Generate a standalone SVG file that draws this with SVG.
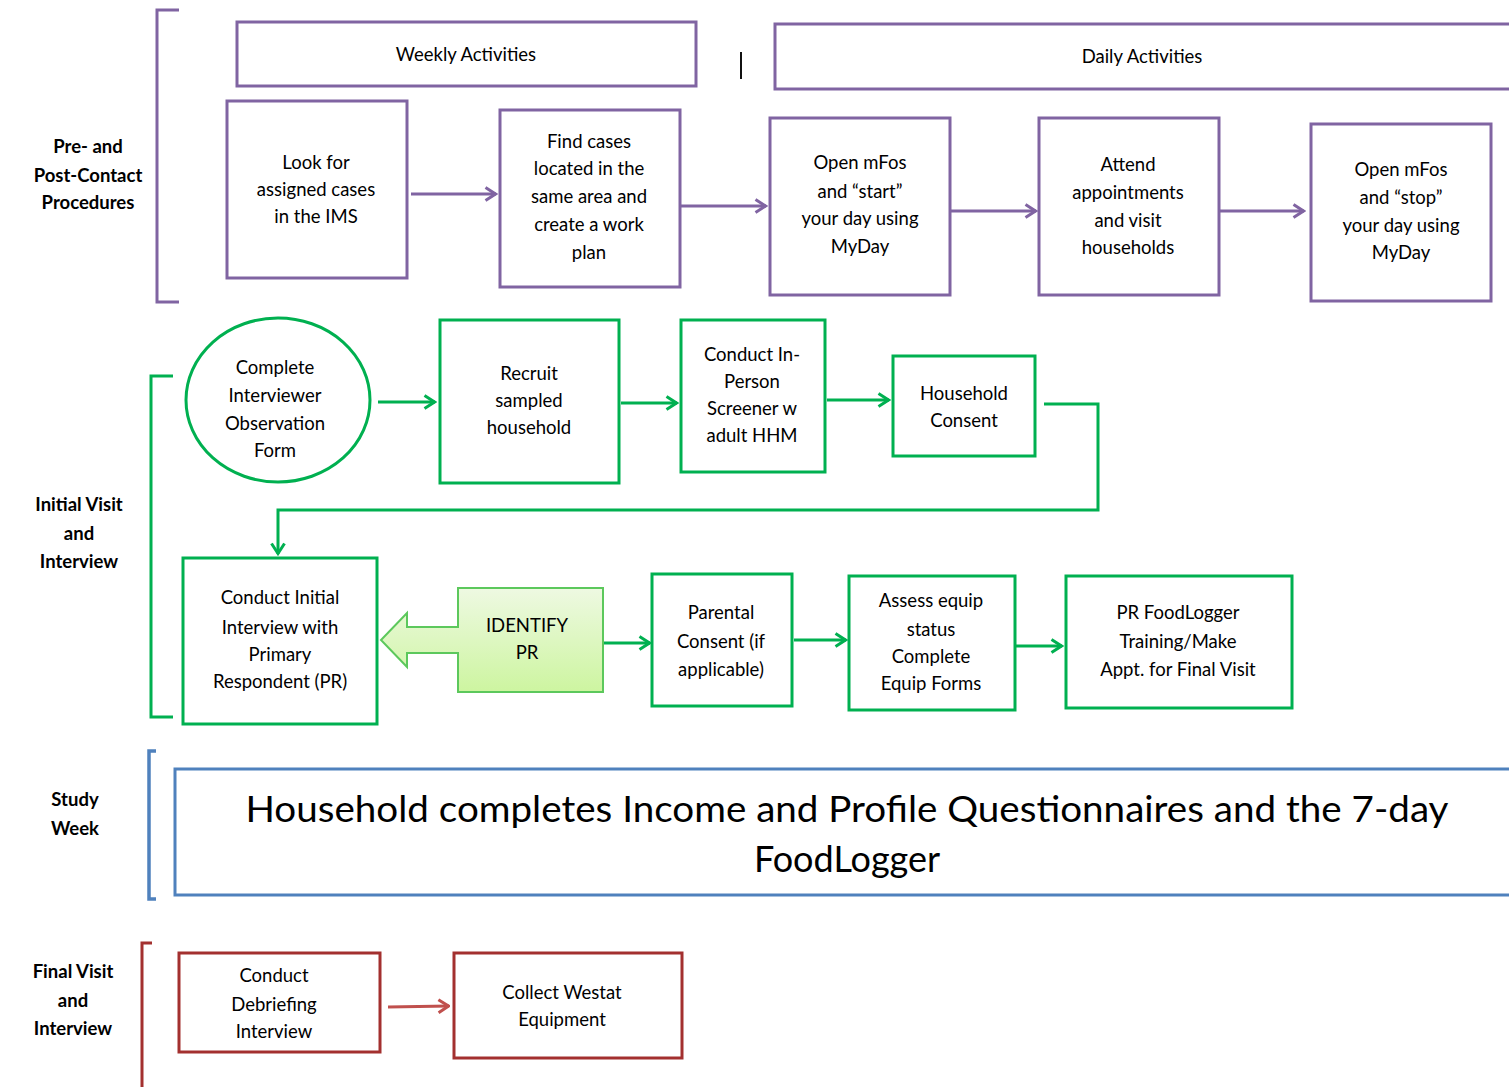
<svg xmlns="http://www.w3.org/2000/svg" width="1509" height="1087" viewBox="0 0 1509 1087">
<defs>
<style>
text{font-family:Lato,"Liberation Sans",sans-serif;fill:#000;text-anchor:middle}
.t{font-size:18.5px}
.lab{font-size:18.5px;font-weight:bold}
.big{font-size:36px}
.p{fill:#fff;stroke:#8064A2;stroke-width:3}
.g{fill:#fff;stroke:#00B050;stroke-width:3}
.b{fill:#fff;stroke:#4F81BD;stroke-width:3}
.r{fill:#fff;stroke:#A3302F;stroke-width:3}
.cp{fill:none;stroke:#8064A2;stroke-width:3}
.cg{fill:none;stroke:#00B050;stroke-width:3}
.cb{fill:none;stroke:#4F81BD;stroke-width:3.5}
.cr{fill:none;stroke:#A3302F;stroke-width:3}
.cr2{fill:none;stroke:#C0504D;stroke-width:3}
</style>
<marker id="ap" viewBox="0 0 14 16" refX="12.5" refY="8" markerWidth="14" markerHeight="16" markerUnits="userSpaceOnUse" orient="auto"><path d="M2,1.5 L12,8 L2,14.5" fill="none" stroke="#8064A2" stroke-width="3"/></marker>
<marker id="ag" viewBox="0 0 14 16" refX="12.5" refY="8" markerWidth="14" markerHeight="16" markerUnits="userSpaceOnUse" orient="auto"><path d="M2,1.5 L12,8 L2,14.5" fill="none" stroke="#00B050" stroke-width="3"/></marker>
<marker id="ar" viewBox="0 0 14 16" refX="12.5" refY="8" markerWidth="14" markerHeight="16" markerUnits="userSpaceOnUse" orient="auto"><path d="M2,1.5 L12,8 L2,14.5" fill="none" stroke="#C0504D" stroke-width="3"/></marker>
<linearGradient id="idg" x1="0" y1="0" x2="0" y2="1"><stop offset="0" stop-color="#EEF9E2"/><stop offset="1" stop-color="#CDF5A0"/></linearGradient>
</defs>
<rect width="1509" height="1087" fill="#fff"/>

<g id="brackets">
<path class="cp" d="M179,10 H157 V302 H179"/>
<path class="cg" d="M173,376 H151 V717 H173"/>
<path class="cb" d="M156,751 H149 V899 H156"/>
<path class="cr" d="M152,943 H142 V1087"/>
<line x1="741" y1="52" x2="741" y2="79" stroke="#111" stroke-width="2"/>
</g>

<g id="labels">
<text class="lab" x="88" y="153">Pre- and</text>
<text class="lab" x="88" y="182">Post-Contact</text>
<text class="lab" x="88" y="209">Procedures</text>
<text class="lab" x="79" y="511">Initial Visit</text>
<text class="lab" x="79" y="540">and</text>
<text class="lab" x="79" y="568">Interview</text>
<text class="lab" x="75" y="806">Study</text>
<text class="lab" x="75" y="835">Week</text>
<text class="lab" x="73" y="978">Final Visit</text>
<text class="lab" x="73" y="1007">and</text>
<text class="lab" x="73" y="1035">Interview</text>
</g>

<g id="weekly"><rect class="p" x="237" y="22" width="459" height="64"/><text class="t" x="466" y="61">Weekly Activities</text></g>
<g id="daily"><rect class="p" x="775" y="24" width="740" height="65"/><text class="t" x="1142" y="63">Daily Activities</text></g>

<g id="lookfor"><rect class="p" x="227" y="101" width="180" height="177"/>
<text class="t" x="316" y="169">Look for</text><text class="t" x="316" y="196">assigned cases</text><text class="t" x="316" y="223">in the IMS</text></g>
<g id="findcases"><rect class="p" x="500" y="110" width="180" height="177"/>
<text class="t" x="589" y="148">Find cases</text><text class="t" x="589" y="175">located in the</text><text class="t" x="589" y="203">same area and</text><text class="t" x="589" y="231">create a work</text><text class="t" x="589" y="259">plan</text></g>
<g id="startday"><rect class="p" x="770" y="118" width="180" height="177"/>
<text class="t" x="860" y="169">Open mFos</text><text class="t" x="860" y="198">and “start”</text><text class="t" x="860" y="225">your day using</text><text class="t" x="860" y="253">MyDay</text></g>
<g id="attend"><rect class="p" x="1039" y="118" width="180" height="177"/>
<text class="t" x="1128" y="171">Attend</text><text class="t" x="1128" y="199">appointments</text><text class="t" x="1128" y="227">and visit</text><text class="t" x="1128" y="254">households</text></g>
<g id="stopday"><rect class="p" x="1311" y="124" width="180" height="177"/>
<text class="t" x="1401" y="176">Open mFos</text><text class="t" x="1401" y="204">and “stop”</text><text class="t" x="1401" y="232">your day using</text><text class="t" x="1401" y="259">MyDay</text></g>

<g id="observation"><ellipse class="g" cx="278" cy="400" rx="92" ry="82"/>
<text class="t" x="275" y="374">Complete</text><text class="t" x="275" y="402">Interviewer</text><text class="t" x="275" y="430">Observation</text><text class="t" x="275" y="457">Form</text></g>
<g id="recruit"><rect class="g" x="440" y="320" width="179" height="163"/>
<text class="t" x="529" y="380">Recruit</text><text class="t" x="529" y="407">sampled</text><text class="t" x="529" y="434">household</text></g>
<g id="screener"><rect class="g" x="681" y="320" width="144" height="152"/>
<text class="t" x="752" y="361">Conduct In-</text><text class="t" x="752" y="388">Person</text><text class="t" x="752" y="415">Screener w</text><text class="t" x="752" y="442">adult HHM</text></g>
<g id="hhconsent"><rect class="g" x="893" y="356" width="142" height="100"/>
<text class="t" x="964" y="400">Household</text><text class="t" x="964" y="427">Consent</text></g>
<g id="initial"><rect class="g" x="183" y="558" width="194" height="166"/>
<text class="t" x="280" y="604">Conduct Initial</text><text class="t" x="280" y="634">Interview with</text><text class="t" x="280" y="661">Primary</text><text class="t" x="280" y="688">Respondent (PR)</text></g>
<g id="identify"><path d="M458,588 H603 V692 H458 V653 H407 V667 L381,640 L407,613 V627 H458 Z" fill="url(#idg)" stroke="#5CC85C" stroke-width="2"/>
<text class="t" x="527" y="632">IDENTIFY</text><text class="t" x="527" y="659">PR</text></g>
<g id="parental"><rect class="g" x="652" y="574" width="140" height="132"/>
<text class="t" x="721" y="619">Parental</text><text class="t" x="721" y="648">Consent (if</text><text class="t" x="721" y="676">applicable)</text></g>
<g id="assess"><rect class="g" x="849" y="576" width="166" height="134"/>
<text class="t" x="931" y="607">Assess equip</text><text class="t" x="931" y="636">status</text><text class="t" x="931" y="663">Complete</text><text class="t" x="931" y="690">Equip Forms</text></g>
<g id="training"><rect class="g" x="1066" y="576" width="226" height="132"/>
<text class="t" x="1178" y="619">PR FoodLogger</text><text class="t" x="1178" y="648">Training/Make</text><text class="t" x="1178" y="676">Appt. for Final Visit</text></g>

<g id="studyweek"><rect class="b" x="175" y="769" width="1345" height="126"/>
<text class="big" x="847" y="822" textLength="1203" lengthAdjust="spacingAndGlyphs">Household completes Income and Profile Questionnaires and the 7-day</text>
<text class="big" x="847" y="872">FoodLogger</text></g>

<g id="debrief"><rect class="r" x="179" y="953" width="201" height="99"/>
<text class="t" x="274" y="982">Conduct</text><text class="t" x="274" y="1011">Debriefing</text><text class="t" x="274" y="1038">Interview</text></g>
<g id="collect"><rect class="r" x="454" y="953" width="228" height="105"/>
<text class="t" x="562" y="999">Collect Westat</text><text class="t" x="562" y="1026">Equipment</text></g>

<g id="connectors">
<line class="cp" x1="411" y1="194" x2="496" y2="194" marker-end="url(#ap)"/>
<line class="cp" x1="681" y1="206" x2="766" y2="206" marker-end="url(#ap)"/>
<line class="cp" x1="951" y1="211" x2="1036" y2="211" marker-end="url(#ap)"/>
<line class="cp" x1="1220" y1="211" x2="1304" y2="211" marker-end="url(#ap)"/>
<line class="cg" x1="378" y1="402" x2="435" y2="402" marker-end="url(#ag)"/>
<line class="cg" x1="621" y1="403" x2="677" y2="403" marker-end="url(#ag)"/>
<line class="cg" x1="827" y1="400" x2="889" y2="400" marker-end="url(#ag)"/>
<path class="cg" d="M1044,404 H1098 V510 H278 V554" marker-end="url(#ag)"/>
<line class="cg" x1="604" y1="643" x2="650" y2="643" marker-end="url(#ag)"/>
<line class="cg" x1="794" y1="640" x2="846" y2="640" marker-end="url(#ag)"/>
<line class="cg" x1="1016" y1="646" x2="1062" y2="646" marker-end="url(#ag)"/>
<line class="cr2" x1="388" y1="1007" x2="449" y2="1006" marker-end="url(#ar)"/>
</g>
</svg>
